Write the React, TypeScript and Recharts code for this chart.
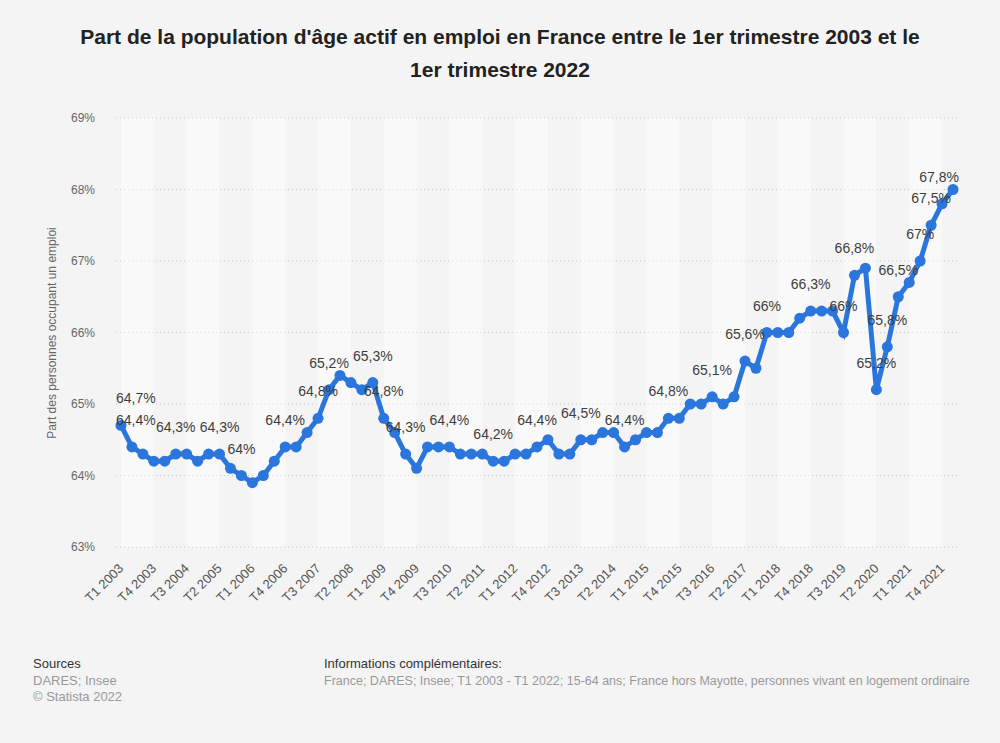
import React from 'react';
import { LineChart, Line, XAxis, YAxis, CartesianGrid, ReferenceArea } from 'recharts';

// ---- data ----
const YEARS = [2003, 2004, 2005, 2006, 2007, 2008, 2009, 2010, 2011, 2012, 2013, 2014, 2015, 2016, 2017, 2018, 2019, 2020, 2021, 2022];
const QUARTERS = ['T1', 'T2', 'T3', 'T4'];
const RATE = [
  64.7, 64.4, 64.3, 64.2, 64.2, 64.3, 64.3, 64.2, 64.3, 64.3,
  64.1, 64.0, 63.9, 64.0, 64.2, 64.4, 64.4, 64.6, 64.8, 65.2,
  65.4, 65.3, 65.2, 65.3, 64.8, 64.6, 64.3, 64.1, 64.4, 64.4,
  64.4, 64.3, 64.3, 64.3, 64.2, 64.2, 64.3, 64.3, 64.4, 64.5,
  64.3, 64.3, 64.5, 64.5, 64.6, 64.6, 64.4, 64.5, 64.6, 64.6,
  64.8, 64.8, 65.0, 65.0, 65.1, 65.0, 65.1, 65.6, 65.5, 66.0,
  66.0, 66.0, 66.2, 66.3, 66.3, 66.3, 66.0, 66.8, 66.9, 65.2,
  65.8, 66.5, 66.7, 67.0, 67.5, 67.8, 68.0,
];
const CATEGORIES = YEARS.flatMap((y) => QUARTERS.map((q) => `${q} ${y}`)).slice(0, RATE.length);
const Y_TICKS = [63, 64, 65, 66, 67, 68, 69];
// points whose value label is visible (others hidden because they would overlap)
const LABELLED = [0, 1, 5, 9, 11, 15, 18, 19, 23, 24, 26, 30, 34, 38, 42, 46, 50, 54, 57, 59, 63, 66, 67, 69, 70, 71, 73, 74, 75];

const TITLE_LINES = ["Part de la population d'âge actif en emploi en France entre le 1er trimestre 2003 et le", '1er trimestre 2022'];
const Y_LABEL = 'Part des personnes occupant un emploi';

const data = CATEGORIES.map((c, i) => ({ period: c, rate: RATE[i] }));

// alternating background bands, three quarters wide
const BANDS = CATEGORIES.map((c, i) => i)
  .filter((i) => i % 6 === 0 && i + 3 < CATEGORIES.length)
  .map((i) => [CATEGORIES[i], CATEGORIES[i + 3]]);

// ---- style / layout ----
const FONT = '"Liberation Sans", Arial, Helvetica, sans-serif';
const BG = '#f4f4f4';
const BLUE = '#2a76dd';
const PLOT_LEFT = 116;
const PLOT_RIGHT = 959;
const PLOT_TOP = 118;
const PLOT_BOTTOM = 547;
const W = 1000;
const H = 743;
const Y_AXIS_W = 60;
const X_AXIS_H = 60;

const fmt = (v: number) => `${String(v).replace('.', ',')}%`;
const labelWidth = (s: string) =>
  [...s].reduce((w, ch) => w + (ch === ',' ? 0.278 : ch === '%' ? 0.889 : 0.556), 0) * 14;

const renderLabel = (props: any) => {
  const { index, value } = props;
  if (!LABELLED.includes(index)) return null;
  const px = props.x ?? props.viewBox?.x;
  const py = props.y ?? props.viewBox?.y;
  if (typeof px !== 'number' || typeof py !== 'number') return null;
  const text = fmt(value);
  const w = labelWidth(text);
  const cx = Math.min(Math.max(px, PLOT_LEFT + w / 2), PLOT_RIGHT - w / 2);
  return (
    <text key={`lbl-${index}`} x={cx} y={py - 22} textAnchor="middle" fontSize={14} fontFamily={FONT} fill="#3d3d3d">
      {text}
    </text>
  );
};

const XTick = (props: any) => {
  const { x, y, payload } = props;
  return (
    <text
      x={x}
      y={y}
      transform={`rotate(-45 ${x} ${y})`}
      textAnchor="end"
      dy="0.35em"
      fontSize={13}
      fontFamily={FONT}
      fill="#555"
    >
      {payload.value}
    </text>
  );
};

export default function App() {
  return (
    <div
      style={{
        position: 'absolute',
        left: 0,
        top: 0,
        width: W,
        height: H,
        background: BG,
        fontFamily: FONT,
        overflow: 'hidden',
      }}
    >
      <div
        style={{
          position: 'absolute',
          left: 20,
          width: 960,
          top: 20,
          textAlign: 'center',
          fontSize: 21,
          fontWeight: 'bold',
          lineHeight: '33px',
          color: '#222',
        }}
      >
        {TITLE_LINES.map((t) => (
          <div key={t} style={{ whiteSpace: 'nowrap' }}>
            {t}
          </div>
        ))}
      </div>

      <div style={{ position: 'absolute', left: 0, top: 0 }}>
        <LineChart
          width={W}
          height={H}
          data={data}
          margin={{
            top: PLOT_TOP,
            right: W - PLOT_RIGHT,
            bottom: H - PLOT_BOTTOM - X_AXIS_H,
            left: PLOT_LEFT - Y_AXIS_W,
          }}
        >
          {BANDS.map(([a, b]) => (
            <ReferenceArea key={a} x1={a} x2={b} fill="#ffffff" fillOpacity={0.45} stroke="none" ifOverflow="visible" />
          ))}
          <CartesianGrid horizontal={true} vertical={false} stroke="#c4c4c4" strokeDasharray="1 3" />
          <XAxis
            dataKey="period"
            interval={2}
            axisLine={false}
            tickLine={false}
            tickSize={0}
            tickMargin={19}
            height={X_AXIS_H}
            padding={{ left: 5, right: 6 }}
            tick={<XTick />}
          />
          <YAxis
            domain={[63, 69]}
            ticks={Y_TICKS}
            width={Y_AXIS_W}
            axisLine={false}
            tickLine={false}
            tickSize={0}
            tickMargin={21}
            tickFormatter={(v: number) => `${v}%`}
            tick={{ fontSize: 12, fill: '#666', fontFamily: FONT }}
          />
          <Line
            type="linear"
            dataKey="rate"
            stroke={BLUE}
            strokeWidth={5}
            dot={{ r: 5.5, fill: BLUE, stroke: BLUE, strokeWidth: 0 }}
            activeDot={false}
            isAnimationActive={false}
            label={renderLabel}
          />
        </LineChart>
      </div>

      <div
        style={{
          position: 'absolute',
          left: 52,
          top: (PLOT_TOP + PLOT_BOTTOM) / 2,
          transform: 'translate(-50%, -50%) rotate(-90deg)',
          whiteSpace: 'nowrap',
          fontSize: 12,
          color: '#666',
          zIndex: 2,
        }}
      >
        {Y_LABEL}
      </div>

      <div style={{ position: 'absolute', left: 33, top: 656, fontSize: 13, lineHeight: '16.5px', zIndex: 2 }}>
        <div style={{ color: '#333' }}>Sources</div>
        <div style={{ color: '#999' }}>DARES; Insee</div>
        <div style={{ color: '#999' }}>© Statista 2022</div>
      </div>
      <div style={{ position: 'absolute', left: 324, top: 656, fontSize: 13, lineHeight: '16.5px', zIndex: 2 }}>
        <div style={{ color: '#333' }}>Informations complémentaires:</div>
        <div style={{ color: '#999', fontSize: 12.5, whiteSpace: 'nowrap' }}>
          France; DARES; Insee; T1 2003 - T1 2022; 15-64 ans; France hors Mayotte, personnes vivant en logement ordinaire
        </div>
      </div>
    </div>
  );
}
